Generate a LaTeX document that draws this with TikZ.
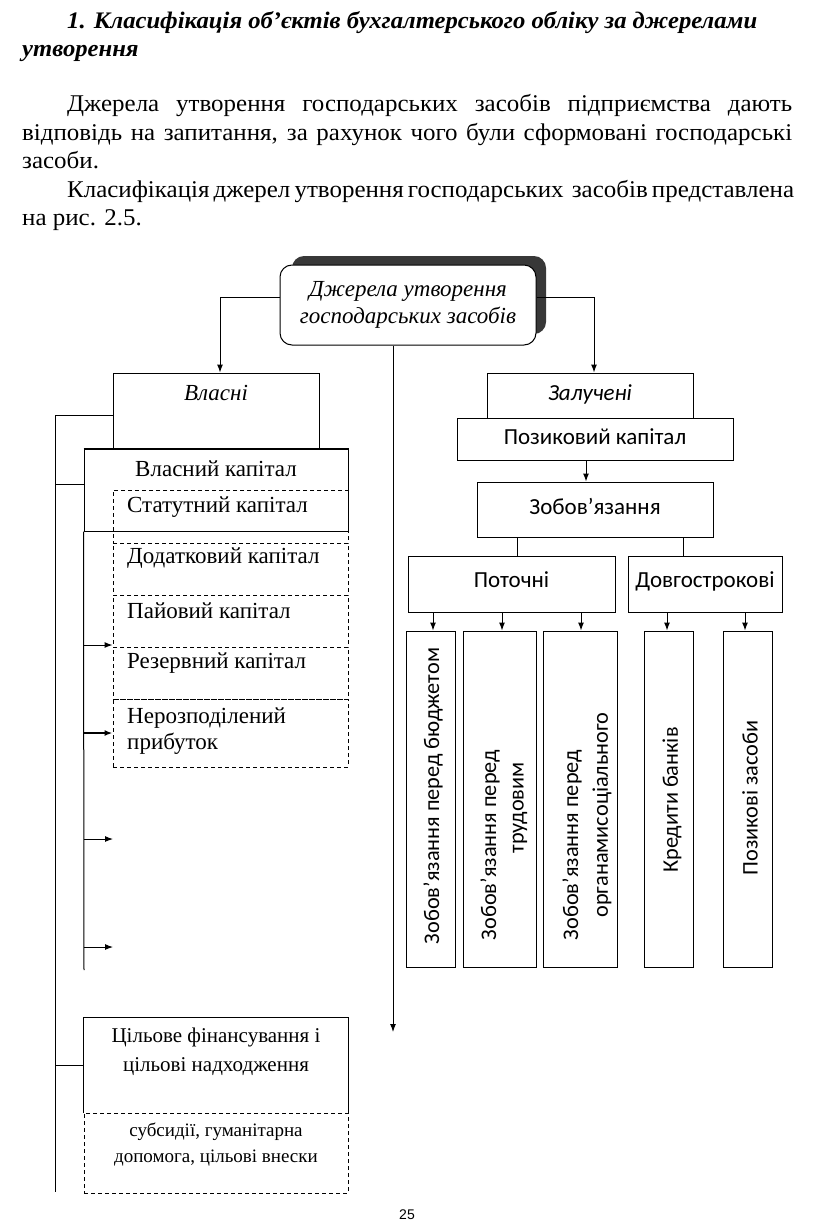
\documentclass[tikz,border=0pt]{standalone}
\usepackage{fontspec}
\setmainfont{Liberation Serif}
\newfontfamily\condfont[FakeStretch=1.04]{Liberation Serif}
\newfontfamily\calib{Carlito}
\newfontfamily\arialf{Liberation Sans}
\usetikzlibrary{arrows.meta}
\tikzset{
  box/.style={draw, line width=1pt, inner sep=0pt},
  dbox/.style={draw, line width=1pt, dash pattern=on 4pt off 3pt, inner sep=0pt},
  arr/.style={line width=1pt, -{Latex[length=8pt,width=6pt]}},
  ln/.style={line width=1pt},
  bodytxt/.style={anchor=base west, inner sep=0pt, font=\condfont\fontsize{24}{28}\selectfont},
  headtxt/.style={anchor=base west, inner sep=0pt, font=\condfont\bfseries\itshape\fontsize{23.7}{28}\selectfont},
  sertxt/.style={inner sep=0pt, font=\fontsize{23}{26}\selectfont},
  santxt/.style={inner sep=0pt, text height=15pt, text depth=5pt, font=\calib\fontsize{23}{27}\selectfont},
  vtxt/.style={inner sep=0pt, rotate=90, font=\calib\fontsize{22.3}{26}\selectfont}
}
\begin{document}
\begin{tikzpicture}[x=1pt,y=-1pt]
\useasboundingbox[fill=white] (0,0) rectangle (816,1228);
% heading and text
\node[headtxt] (h1) at (67,29) {1. Класифікація об’єктів бухгалтерського обліку за джерелами};
\node[headtxt] (h2) at (22,57) {утворення};
\node[bodytxt] (p1) at (67,112) {\makebox[725pt][s]{Джерела утворення господарських засобів підприємства дають}};
\node[bodytxt] (p2) at (22,140) {\makebox[770pt][s]{відповідь на запитання, за рахунок чого були сформовані господарські}};
\node[bodytxt] (p3) at (22,168) {засоби.};
\node[bodytxt] (p4) at (67,197) {\makebox[725pt][s]{Класифікація джерел утворення господарських\ \ засобів представлена}};
\node[bodytxt] (p5) at (22,225) {на рис. 2.5.};
% top box with shadow
\node[fill=black!78, rounded corners=12pt, minimum width=254pt, minimum height=78pt] (shadow) at (419,295) {};
\node[box, fill=white, rounded corners=12pt, minimum width=256pt, minimum height=80pt, align=center,
      font=\itshape\fontsize{23}{27}\selectfont] (top) at (408,305) {Джерела утворення\\господарських засобів};
% left branch
\node[box, minimum width=206pt, minimum height=76pt] (vlasni) at (216,411) {};
\node[sertxt, font=\itshape\fontsize{23}{26}\selectfont] (vlasnit) at (216,393) {Власні};
\node[box, minimum width=264pt, minimum height=82pt] (vk) at (216,490) {};
\draw[line width=1.8pt] (vk.north west) -- (vk.north east);
\node[sertxt] (vkt) at (216,469) {Власний капітал};
\node[dbox, minimum width=235pt, minimum height=53pt] (s1) at (230.5,516.5) {};
\node[dbox, minimum width=235pt, minimum height=52pt] (s2) at (230.5,569) {};
\node[dbox, minimum width=235pt, minimum height=52pt] (s3) at (230.5,621) {};
\node[dbox, minimum width=235pt, minimum height=52pt] (s4) at (230.5,673) {};
\node[dbox, minimum width=235pt, minimum height=68pt] (s5) at (230.5,733) {};
\node[sertxt, anchor=west] (s1t) at (127,507) {Статутний капітал};
\node[sertxt, anchor=west] (s2t) at (127,558) {Додатковий капітал};
\node[sertxt, anchor=west] (s3t) at (127,611) {Пайовий капітал};
\node[sertxt, anchor=west] (s4t) at (127,663) {Резервний капітал};
\node[sertxt, anchor=north west, align=left] (s5t) at (127,708) {Нерозподілений\\прибуток};
% target financing
\node[minimum width=264pt, minimum height=95pt, inner sep=0pt] (cil) at (216,1065.5) {};
\draw[ln] (cil.south west) -- (cil.north west) -- (cil.north east) -- (cil.south east);
\node[sertxt, align=center, font=\fontsize{21}{29}\selectfont] (cilt) at (216,1052) {Цільове фінансування і\\цільові надходження};
\node[dbox, minimum width=264pt, minimum height=80pt] (sub) at (216,1153) {};
\node[sertxt, align=center, font=\fontsize{19}{26}\selectfont] (subt) at (216,1145) {субсидії, гуманітарна\\допомога, цільові внески};
% left connectors
\coordinate (outerEnd) at (55,1192);
\coordinate (innerEnd) at (84,970);
\draw[ln] ([yshift=-4pt]vlasni.west) -| (outerEnd);
\draw[ln] (55,484) -- (vk.west |- 0,484);
\draw[ln] (55,1065) -- (cil.west |- 0,1065);
\draw[ln] (vk.south west) -- (innerEnd);
\draw[arr] (vk.west |- 0,645) -- (s4.west |- 0,645);
\draw[arr, line width=1.8pt] (vk.west |- s5.west) -- (s5.west);
\coordinate (a3) at (113,839);
\coordinate (a4) at (113,947);
\draw[arr] (84,839) -- (a3);
\draw[arr] (84,947) -- (a4);
% right branch
\node[box, minimum width=206pt, minimum height=45pt, santxt, font=\calib\itshape\fontsize{23}{27}\selectfont] (zal) at (590,395.5) {Залучені};
\node[box, minimum width=276pt, minimum height=42pt, santxt] (poz) at (595,439) {Позиковий капітал};
\node[box, minimum width=236pt, minimum height=55pt, santxt] (zob) at (595,509.5) {Зобов’язання};
\node[box, minimum width=207pt, minimum height=56pt, santxt, text depth=9pt] (pot) at (511.5,584) {Поточні};
\node[box, minimum width=154pt, minimum height=56pt, santxt, text depth=9pt] (dov) at (705,584) {Довгострокові};
\node[box, minimum width=49pt, minimum height=336pt] (v1) at (430.5,799) {};
\node[box, minimum width=73pt, minimum height=336pt] (v2) at (499.5,799) {};
\node[box, minimum width=74pt, minimum height=336pt] (v3) at (580,799) {};
\node[box, minimum width=49pt, minimum height=336pt] (v4) at (668.5,799) {};
\node[box, minimum width=49pt, minimum height=336pt] (v5) at (747.5,799) {};
\node[vtxt] (v1t) at (433,796) {Зобов’язання перед бюджетом};
\node[vtxt] (v2ta) at (490,845) {Зобов’язання перед};
\node[vtxt] (v2tb) at (520,808) {трудовим};
\node[vtxt] (v3ta) at (572,845) {Зобов’язання перед};
\node[vtxt] (v3tb) at (602,815) {органамисоціального};
\node[vtxt] (v4t) at (672,800) {Кредити банків};
\node[vtxt] (v5t) at (750,798) {Позикові засоби};
% top connectors
\coordinate (midEnd) at (393,1032);
\draw[arr] ([yshift=8pt]top.west) -| ([xshift=4pt]vlasni.north);
\draw[arr] ([yshift=8pt]top.east) -| ([xshift=4pt]zal.north);
\draw[arr] ([xshift=-15pt]top.south) -- (midEnd);
% right connectors
\draw[arr] ([xshift=-9pt]poz.south) -- ([xshift=-9pt]zob.north);
\draw[ln] ([xshift=-78pt]zob.south) -- ([xshift=5.5pt]pot.north);
\draw[ln] ([xshift=88pt]zob.south) -- ([xshift=-22pt]dov.north);
\draw[arr] ([xshift=2.5pt]v1.north |- pot.south) -- ([xshift=2.5pt]v1.north);
\draw[arr] ([xshift=2.5pt]v2.north |- pot.south) -- ([xshift=2.5pt]v2.north);
\draw[arr] ([xshift=1pt]v3.north |- pot.south) -- ([xshift=1pt]v3.north);
\draw[arr] ([xshift=-1.5pt]v4.north |- dov.south) -- ([xshift=-1.5pt]v4.north);
\draw[arr] ([xshift=-2.5pt]v5.north |- dov.south) -- ([xshift=-2.5pt]v5.north);
% page number
\node[inner sep=0pt, font=\arialf\fontsize{14}{16}\selectfont] (pg) at (407,1215) {25};
\end{tikzpicture}
\end{document}
